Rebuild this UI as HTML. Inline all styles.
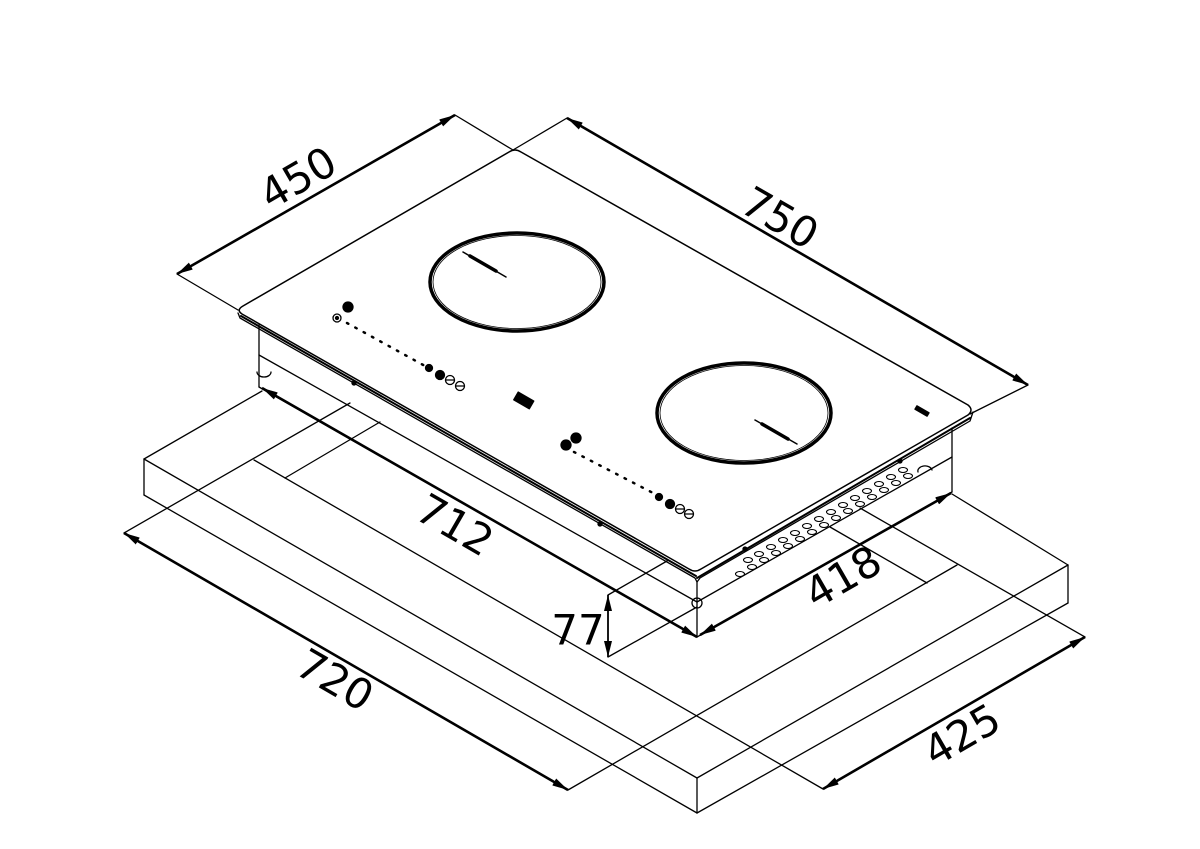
<!DOCTYPE html>
<html><head><meta charset="utf-8"><style>
html,body{margin:0;padding:0;background:#fff;}
svg{display:block;}
text{font-family:"DejaVu Sans","Liberation Sans",sans-serif;font-size:42px;fill:#000;}
</style></head><body>
<svg width="1200" height="849" viewBox="0 0 1200 849" xmlns="http://www.w3.org/2000/svg">
<defs>
<marker id="ah" viewBox="0 0 16 8" refX="16" refY="4" markerWidth="16" markerHeight="8" markerUnits="userSpaceOnUse" orient="auto-start-reverse">
<path d="M0,0 L16,4 L0,8 z" fill="#000"/>
</marker>
</defs>
<g stroke="#000" stroke-width="1.3" fill="none" stroke-linecap="round" stroke-linejoin="round">
<!-- Block -->
<line x1="144" y1="459" x2="697" y2="778"/>
<line x1="144" y1="495" x2="697" y2="813"/>
<line x1="144" y1="459" x2="144" y2="495"/>
<line x1="697" y1="778" x2="697" y2="813"/>
<line x1="1068" y1="565" x2="1068" y2="603"/>
<line x1="697" y1="778" x2="1068" y2="565"/>
<line x1="697" y1="813" x2="1068" y2="603"/>
<line x1="144" y1="459" x2="262" y2="391"/>
<line x1="952" y1="494" x2="1068" y2="565"/>
<!-- cutout / extension lines -->
<line x1="254" y1="460" x2="823" y2="789"/>
<line x1="860" y1="508" x2="1085" y2="637"/>
<line x1="830" y1="527" x2="927" y2="583"/>
<line x1="568" y1="790" x2="957" y2="565"/>
<line x1="124" y1="533" x2="350" y2="403"/>
<line x1="285" y1="478" x2="380" y2="422"/>
<!-- 77 ext -->
<line x1="608" y1="595" x2="667" y2="561"/>
<line x1="608" y1="657" x2="697" y2="607"/>
<!-- top extension lines -->
<line x1="177" y1="274" x2="238" y2="310"/>
<line x1="455" y1="115" x2="513" y2="150"/>
<line x1="513" y1="150" x2="567" y2="118"/>
<line x1="970" y1="414" x2="1028" y2="385"/>
<!-- Body -->
<line x1="259" y1="325" x2="259" y2="387"/>
<line x1="259" y1="387" x2="697" y2="637"/>
<line x1="259" y1="355" x2="697" y2="602"/>
<line x1="697" y1="582" x2="697" y2="637"/>
<line x1="697" y1="637" x2="952" y2="492"/>
<line x1="952" y1="428" x2="952" y2="492"/>
<line x1="952" y1="457" x2="697" y2="602"/>
<path d="M257,372 a7,5 0 0 0 14,0"/>
<circle cx="697" cy="603" r="5"/>
<path d="M918,472 a7,5 0 0 1 14,-2"/>
<!-- Glass -->
<path d="M243,306 L509,152 Q515,148 521,152 L968,405 Q974,410 968,415 L701,569 Q695,573 689,569 L242,314 Q236,310 243,306 z" stroke-width="1.5"/>
<path d="M238,313 L240,318 L695,578 L697,582 L700,578 L970,421 L973,412" stroke-width="1.3"/>
<path d="M241,316 L696,576" stroke-width="2"/>
<path d="M697,578 L970,418" stroke-width="2"/>
<!-- Burners -->
<ellipse cx="517" cy="282" rx="87" ry="49" stroke-width="3.5"/>
<ellipse cx="517" cy="282" rx="84" ry="46.5" stroke-width="0.8"/>
<line x1="463" y1="252" x2="506" y2="277" stroke-width="1.5"/>
<line x1="470" y1="256" x2="496" y2="271" stroke-width="3.5"/>
<ellipse cx="744" cy="413" rx="87" ry="50" stroke-width="3.5"/>
<ellipse cx="744" cy="413" rx="84" ry="47.5" stroke-width="0.8"/>
<line x1="755" y1="420" x2="797" y2="444" stroke-width="1.5"/>
<line x1="762" y1="424" x2="788" y2="439" stroke-width="3.5"/>
<!-- Controls left -->
<circle cx="337" cy="318" r="4"/>
<circle cx="337" cy="318" r="1.5" fill="#000"/>
<circle cx="348" cy="307" r="5" fill="#000"/>
<line x1="347" y1="323" x2="425" y2="366" stroke-dasharray="1.5 8" stroke-width="2.5"/>
<circle cx="429" cy="368" r="3.5" fill="#000"/>
<circle cx="440" cy="375" r="4.5" fill="#000"/>
<circle cx="450" cy="380" r="4.5"/>
<circle cx="460" cy="386" r="4.5"/>
<line x1="446" y1="380" x2="454" y2="380"/>
<line x1="456" y1="386" x2="464" y2="386"/>
<circle cx="354" cy="383" r="2" fill="#000"/>
<!-- logo -->
<rect x="515" y="396" width="18" height="9" fill="#000" transform="rotate(30 524 400)"/>
<rect x="915" y="409" width="14" height="4" fill="#000" transform="rotate(30 922 411)"/>
<!-- Controls right -->
<circle cx="566" cy="445" r="5" fill="#000"/>
<circle cx="576" cy="438" r="5" fill="#000"/>
<line x1="574" y1="452" x2="655" y2="494" stroke-dasharray="1.5 8" stroke-width="2.5"/>
<circle cx="659" cy="497" r="3.5" fill="#000"/>
<circle cx="670" cy="504" r="4.5" fill="#000"/>
<circle cx="680" cy="509" r="4.5"/>
<circle cx="689" cy="514" r="4.5"/>
<line x1="676" y1="509" x2="684" y2="509"/>
<line x1="685" y1="514" x2="693" y2="514"/>
<circle cx="600" cy="524" r="2" fill="#000"/>
<circle cx="745" cy="549" r="2" fill="#000"/>
<circle cx="900" cy="461" r="2" fill="#000"/>
<!-- vents -->
<g stroke-width="1.1">
<ellipse cx="748" cy="560" rx="4.5" ry="2.5"/><ellipse cx="759" cy="554" rx="4.5" ry="2.5"/><ellipse cx="771" cy="547" rx="4.5" ry="2.5"/><ellipse cx="783" cy="540" rx="4.5" ry="2.5"/><ellipse cx="795" cy="533" rx="4.5" ry="2.5"/><ellipse cx="807" cy="526" rx="4.5" ry="2.5"/><ellipse cx="819" cy="519" rx="4.5" ry="2.5"/><ellipse cx="831" cy="512" rx="4.5" ry="2.5"/><ellipse cx="843" cy="505" rx="4.5" ry="2.5"/><ellipse cx="855" cy="498" rx="4.5" ry="2.5"/><ellipse cx="867" cy="491" rx="4.5" ry="2.5"/><ellipse cx="879" cy="484" rx="4.5" ry="2.5"/><ellipse cx="891" cy="477" rx="4.5" ry="2.5"/><ellipse cx="903" cy="470" rx="4.5" ry="2.5"/>
<ellipse cx="740" cy="574" rx="4.5" ry="2.5"/><ellipse cx="752" cy="567" rx="4.5" ry="2.5"/><ellipse cx="764" cy="560" rx="4.5" ry="2.5"/><ellipse cx="776" cy="553" rx="4.5" ry="2.5"/><ellipse cx="788" cy="546" rx="4.5" ry="2.5"/><ellipse cx="800" cy="539" rx="4.5" ry="2.5"/><ellipse cx="812" cy="532" rx="4.5" ry="2.5"/><ellipse cx="824" cy="525" rx="4.5" ry="2.5"/><ellipse cx="836" cy="518" rx="4.5" ry="2.5"/><ellipse cx="848" cy="511" rx="4.5" ry="2.5"/><ellipse cx="860" cy="504" rx="4.5" ry="2.5"/><ellipse cx="872" cy="497" rx="4.5" ry="2.5"/><ellipse cx="884" cy="490" rx="4.5" ry="2.5"/><ellipse cx="896" cy="483" rx="4.5" ry="2.5"/><ellipse cx="908" cy="476" rx="4.5" ry="2.5"/>
</g>
</g>
<!-- Dimension arrows -->
<g stroke="#000" stroke-width="2.6" fill="none">
<line x1="177" y1="274" x2="455" y2="115" marker-start="url(#ah)" marker-end="url(#ah)"/>
<line x1="567" y1="118" x2="1028" y2="385" marker-start="url(#ah)" marker-end="url(#ah)"/>
<line x1="262" y1="388" x2="697" y2="637" marker-start="url(#ah)" marker-end="url(#ah)"/>
<line x1="700" y1="635" x2="951" y2="493" marker-start="url(#ah)" marker-end="url(#ah)"/>
<line x1="124" y1="533" x2="568" y2="790" marker-start="url(#ah)" marker-end="url(#ah)"/>
<line x1="823" y1="789" x2="1085" y2="637" marker-start="url(#ah)" marker-end="url(#ah)"/>
<line x1="608" y1="595" x2="608" y2="657" stroke-width="1.8" marker-start="url(#ah)" marker-end="url(#ah)"/>
</g>
<g text-anchor="middle" dominant-baseline="central">
<text x="298" y="178" transform="rotate(-30 298 178)">450</text>
<text x="780" y="218" transform="rotate(30 780 218)">750</text>
<text x="455" y="525" transform="rotate(30 455 525)">712</text>
<text x="335" y="680" transform="rotate(30 335 680)">720</text>
<text x="843" y="577" transform="rotate(-30 843 577)">418</text>
<text x="962" y="735" transform="rotate(-30 962 735)">425</text>
<text x="578" y="630">77</text>
</g>
</svg>
</body></html>
